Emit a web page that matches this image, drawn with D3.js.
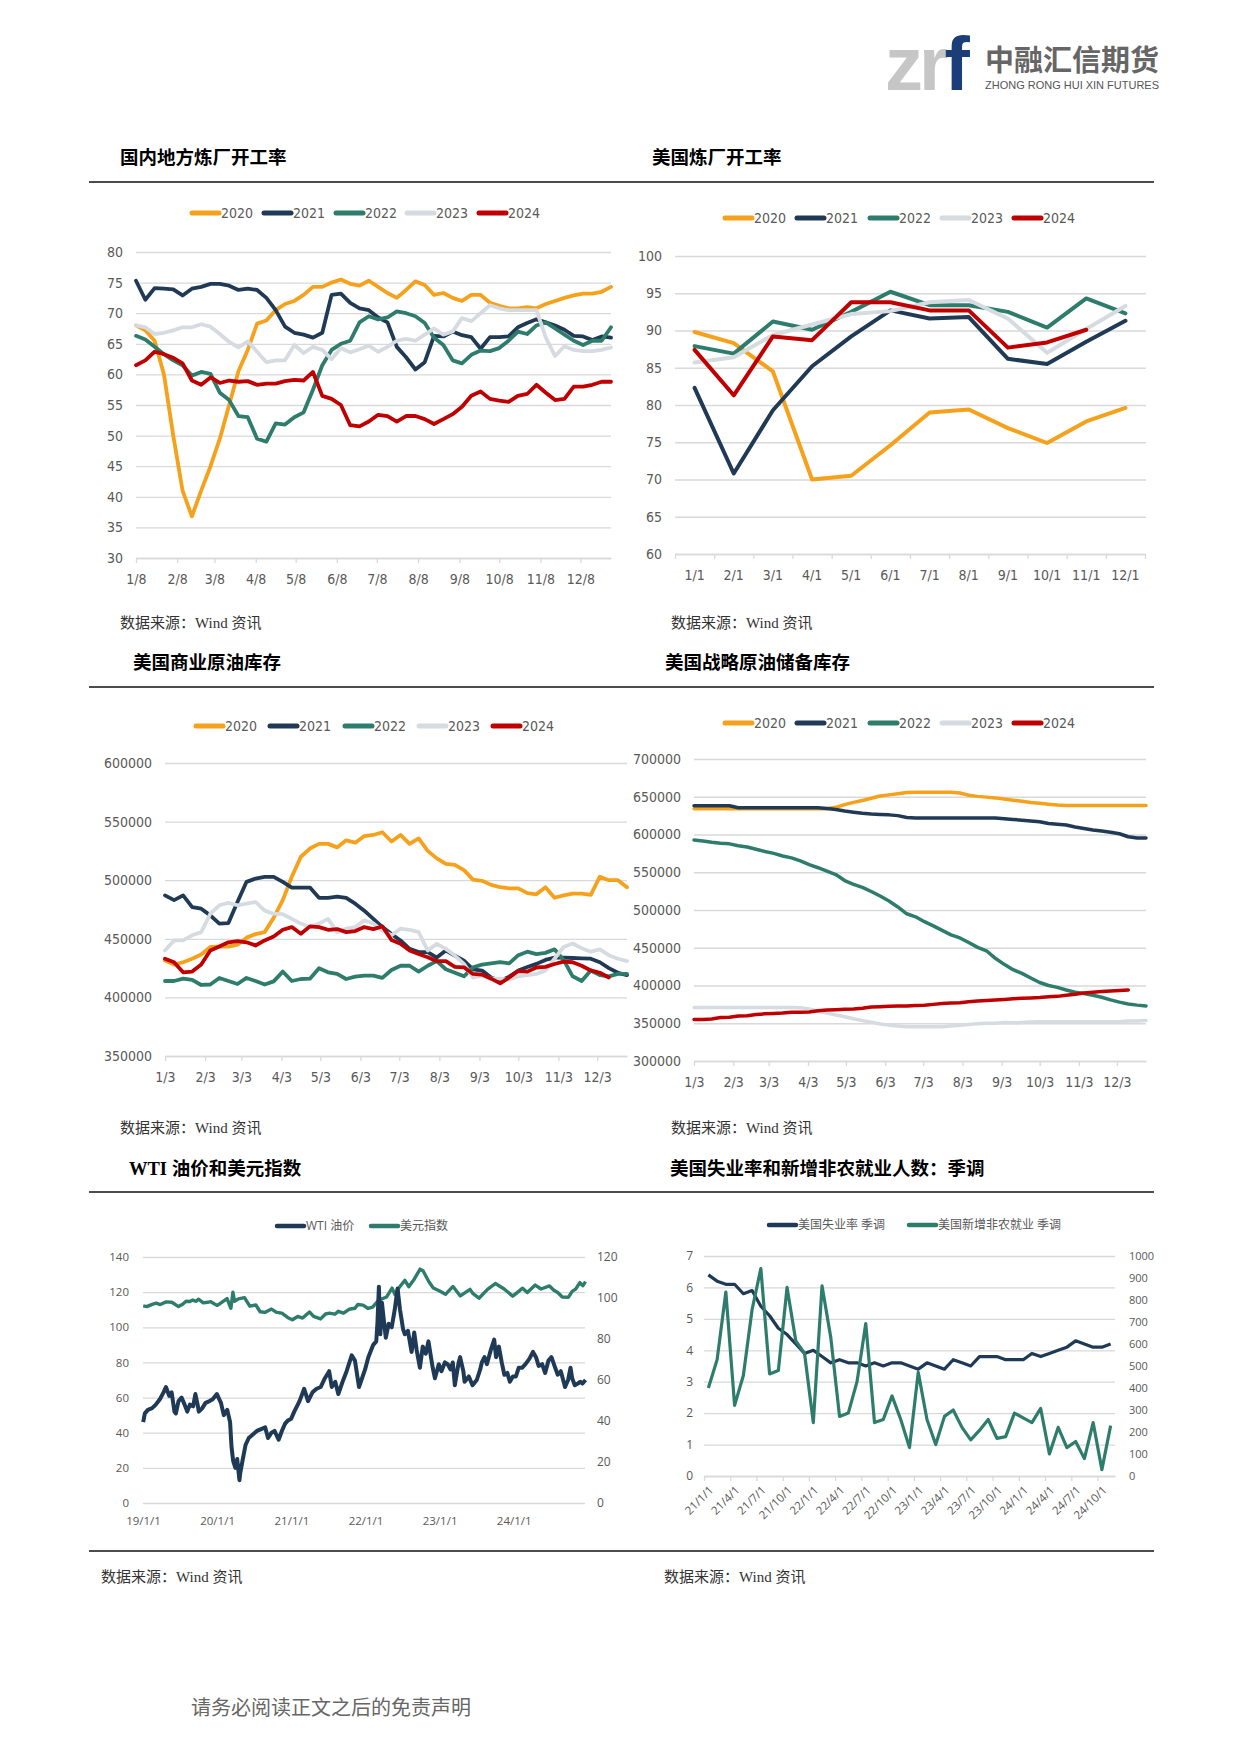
<!DOCTYPE html>
<html><head><meta charset="utf-8">
<script src="https://cdn.jsdelivr.net/npm/d3@7"></script>
<style>body{margin:0;background:#fff}svg{display:block}</style>
</head><body>
<svg id="page" width="1241" height="1755"></svg>
<script>
// ---------------- DATA ----------------
const yearNames = ["2020","2021","2022","2023","2024"];
const yearColors = ["#f6a11b","#203a56","#2e7d6c","#d5dbe1","#c00000"];

// Chart 1: 国内地方炼厂开工率 (weekly, from 1/8)
const localTickLabels = ["1/8","2/8","3/8","4/8","5/8","6/8","7/8","8/8","9/8","10/8","11/8","12/8"];
const local2020 = [68,67.2,65.5,60,50,41,36.8,41,45,49.5,55,60.5,64,68.3,68.8,70.5,71.5,72,73,74.3,74.3,75,75.5,74.8,74.5,75.3,74.3,73.3,72.5,73.8,75.2,74.6,73,73.3,72.5,72,73,73,71.7,71.2,70.8,70.8,71,70.8,71.5,72,72.5,72.9,73.2,73.2,73.5,74.3];
const local2021 = [75.3,72.2,74.1,74,73.9,72.9,74,74.3,74.8,74.8,74.5,73.8,74,73.8,72.5,70.5,67.8,66.8,66.5,66,66.8,73,73.2,71.7,70.8,70.5,69.3,68.5,64.5,62.8,60.8,62,66.3,66.2,67,66.4,66.1,64.2,66.1,66.1,66.2,67.7,68.4,69,68.5,68,67.3,66.3,66.2,65.6,66.2,66];
const local2022 = [66.3,65.7,64.5,63.3,62.3,61.5,59.8,60.4,60.1,57,55.8,53.2,53,49.5,49,52,51.8,53,53.8,57.5,61.5,64,65,65.5,68.5,69.5,69,69.3,70.3,70,69.5,68.4,66,64.8,62.3,61.8,63.2,63.9,63.8,64.3,65.5,67,66.6,68,68.5,67.5,66.5,65.5,64.8,65.5,65.5,67.7];
const local2023 = [68,67.7,66.6,66.8,67.2,67.7,67.7,68.2,67.8,66.6,65.3,64.4,65.4,63.7,62,62.3,62.3,64.8,63.5,64.5,64,62.5,64.3,63.6,64.1,64.7,63.7,64.5,65.5,65.8,65.5,66.5,67.5,66.5,67,69.2,68.7,70,71.3,70.8,70.5,70.5,70.5,70.5,66,63,64.6,64,63.8,63.8,64,64.4];
const local2024 = [61.5,62.3,63.7,63.3,62.7,61.8,59,58.3,59.5,58.6,59,58.8,58.9,58.3,58.5,58.5,58.9,59.1,59,60.4,56.5,56,55,51.7,51.5,52.3,53.4,53.2,52.3,53.2,53.2,52.7,51.9,52.7,53.5,54.7,56.5,57.2,56,55.7,55.5,56.5,56.8,58.3,57,55.8,56,58,58,58.3,58.8,58.8];

// Chart 2: 美国炼厂开工率 (monthly)
const usMonths = ["1/1","2/1","3/1","4/1","5/1","6/1","7/1","8/1","9/1","10/1","11/1","12/1"];
const us2020 = [89.8,88.3,84.5,70,70.5,74.6,79,79.4,76.9,74.9,77.8,79.6];
const us2021 = [82.3,70.8,79.3,85.2,89.2,92.7,91.6,91.8,86.2,85.5,88.5,91.3];
const us2022 = [87.9,86.9,91.2,90.1,92.5,95.2,93.4,93.4,92.5,90.4,94.3,92.3];
const us2023 = [85.7,86.4,89.4,90.8,92.2,92.6,93.8,94.1,91.6,87,90.2,93.3];
const us2024 = [87.4,81.3,89.2,88.7,93.8,93.8,92.7,92.7,87.7,88.4,90.1];

// Chart 3: 美国商业原油库存 (weekly, thousand barrels, from 1/3)
const stockTickLabels = ["1/3","2/3","3/3","4/3","5/3","6/3","7/3","8/3","9/3","10/3","11/3","12/3"];
const com2020 = [431.4,428,430,433,436.6,443,443.4,443.4,445,451,454,455.7,468,483,503,520,527,531,531,528,534,532,537.7,538.6,540.9,533,538.6,531,535.7,525,518.6,514,513,508.6,500.5,499.5,496,494,493,493,489,488,494,485,487,488.5,488.5,487.5,503,500,500,494];
const com2021 = [487,483,487,477,475.7,470,463,463.4,481.4,498.6,501.4,502.9,502.9,498.6,493.7,493.7,493.7,485,485,486,485,480,474,467,460,454,448.6,441.4,438.6,438.6,434,440,435.7,431.4,424,422.9,417,414,417.7,423,426,428.6,432,434,434,433.6,433.3,433,430,425,421,419];
const com2022 = [414,414,416,415,410.6,411,416.6,414,411.4,416.6,414,411,413.7,422,414,415.7,416,424.9,421.4,420,415.7,417.7,418.6,418.6,416.6,423.4,427,427,422,427,431,424,421,418,425.7,428,429,430,429,436,439,437,438,441,432,418,414,423,419,418,420,420];
const com2023 = [440,448.6,448.6,453,455.7,471.4,478.6,480.6,478.6,480,481.4,474,471.4,471,467,463,460,463,467,455.7,458.6,460,465.7,463,457,453,458.6,457.7,455.7,440,445.7,441.4,435.7,428.6,417,418.6,416,416,415,418,419,420,423,433,443,446,442,439,441,436,433,431];
const com2024 = [433,430,421.4,422,428,440,443.4,447,448,447,444.3,448.6,452,457.7,460,454.3,460.6,460,457.7,458.3,455.7,456.6,460,458.3,460.6,449,445.7,440,437,434.3,430.9,430.9,426,425.7,420,419.5,416,412,417,422.5,422,425.5,426,428.5,430.5,430,427,423,421,417];

// Chart 4: 美国战略原油储备库存 (weekly, thousand barrels, from 1/3)
const spr2020 = [634,634,634,634,634,634,634,634,634,634,634,634,634,634,634,634,636,639.5,642.5,645,648,651,652.5,654,655.5,656,656,656,656,656,655,652,650.5,649.5,648.5,647,645.5,644,642.5,641.5,640,639,638.5,638.5,638.5,638.5,638.5,638.5,638.5,638.5,638.5,638.5];
const spr2021 = [638,638,638,638,638,635.5,635.5,635.5,635.5,635.5,635.5,635.5,635.5,635.5,635.5,634.5,633,631,629.5,628,627,626.5,626,625,622.5,622,622,622,622,622,622,622,622,622,622,621,620,619,618,617,614.5,613.5,612.5,610,608,606,604.5,603,601,597,595.5,595.5];
const spr2022 = [592.7,591.4,589.7,588.5,587.6,585,583.5,580.4,577.5,575,571.5,569,565,560,556,551.5,547,539,534,530,524.5,518.5,512,504,495,491,484.5,479,473,467,463,457,450.5,446,436,428,421,416,410,404,400,397.5,394,391,389.5,387,384.5,381,378,375.5,374,373];
const spr2023 = [371,371,371,371,371,371,371,371,371,371,371,371,370.5,369,366,363.5,361,358.5,356,353.5,351.5,349,347.5,346.5,345.5,345.5,345.5,345.5,345.5,346.5,347.5,348.5,349.5,350,350,351,350.5,351,351.5,352,352,352,352,352,352,352,352,352,352,353,353,353.5];
const spr2024 = [355,355,355.5,357.5,358,359.5,360,361.5,362.5,363,363.5,364.5,364.5,365,366.5,367.5,368,368.5,369,370,371.5,372,372.5,372.8,373,373.5,373.7,375,376.3,376.8,377.3,378.5,379.5,380,380.7,381.5,382.5,383,383.5,384,385,385.6,387,388.5,390,391,392,392.7,393.5,394];

// Chart 5: WTI 油价 (left) 和 美元指数 (right)
const wtiYearLabels = ["19/1/1","20/1/1","21/1/1","22/1/1","23/1/1","24/1/1"];
const wtiPrice = [
["2019-01-02",46],["2019-01-10",51],["2019-01-25",53],["2019-02-15",54],["2019-03-05",56],["2019-03-25",59],["2019-04-12",63],["2019-04-24",66],["2019-05-10",61],["2019-05-22",63],["2019-06-05",52],["2019-06-12",51],["2019-06-25",58],["2019-07-10",60],["2019-07-25",56],["2019-08-07",52],["2019-08-20",56],["2019-09-05",55],["2019-09-16",62],["2019-09-27",56],["2019-10-03",52],["2019-10-20",54],["2019-11-05",57],["2019-11-25",58],["2019-12-10",59],["2019-12-31",62],
["2020-01-08",60],["2020-01-20",57],["2020-02-03",50],["2020-02-20",53],["2020-03-05",46],["2020-03-12",32],["2020-03-20",24],["2020-03-31",20],["2020-04-09",25],["2020-04-20",13],["2020-04-24",17],["2020-05-05",24],["2020-05-20",33],["2020-06-05",37],["2020-06-25",39],["2020-07-15",41],["2020-08-05",42],["2020-08-25",43],["2020-09-08",37],["2020-09-25",40],["2020-10-10",41],["2020-10-30",36],["2020-11-15",41],["2020-11-30",45],["2020-12-15",47],["2020-12-31",48],
["2021-01-15",52],["2021-02-10",58],["2021-03-05",65],["2021-03-24",58],["2021-04-15",63],["2021-05-05",65],["2021-05-25",66],["2021-06-15",71],["2021-07-06",75],["2021-07-19",66],["2021-08-05",69],["2021-08-20",62],["2021-09-10",69],["2021-09-30",75],["2021-10-25",84],["2021-11-10",81],["2021-11-30",66],["2021-12-15",71],["2021-12-30",76],
["2022-01-15",83],["2022-02-08",90],["2022-02-23",92],["2022-03-01",103],["2022-03-08",123],["2022-03-15",96],["2022-03-23",114],["2022-04-05",100],["2022-04-11",94],["2022-04-25",102],["2022-05-10",100],["2022-05-25",110],["2022-06-08",122],["2022-06-20",110],["2022-07-05",99],["2022-07-14",96],["2022-07-29",98],["2022-08-16",86],["2022-08-29",97],["2022-09-10",87],["2022-09-26",77],["2022-10-10",89],["2022-10-25",85],["2022-11-07",92],["2022-11-28",77],["2022-12-09",71],["2022-12-28",79],
["2023-01-10",75],["2023-01-27",80],["2023-02-10",79],["2023-02-24",76],["2023-03-07",80],["2023-03-17",67],["2023-04-05",80],["2023-04-12",83],["2023-04-28",75],["2023-05-04",69],["2023-05-25",72],["2023-06-12",67],["2023-07-03",70],["2023-07-20",76],["2023-07-28",80],["2023-08-10",83],["2023-08-22",79],["2023-09-10",87],["2023-09-27",93],["2023-10-06",83],["2023-10-20",89],["2023-11-03",80],["2023-11-16",73],["2023-12-01",74],["2023-12-13",69],["2023-12-28",72],
["2024-01-12",72],["2024-01-26",77],["2024-02-12",77],["2024-02-28",79],["2024-03-18",82],["2024-04-05",86],["2024-04-20",83],["2024-05-03",78],["2024-05-20",79],["2024-06-04",74],["2024-06-20",81],["2024-07-05",83],["2024-07-20",78],["2024-08-05",73],["2024-08-20",75],["2024-09-10",66],["2024-09-25",70],["2024-10-07",77],["2024-10-15",71],["2024-10-28",67],["2024-11-12",68],["2024-11-25",69],["2024-12-05",68],["2024-12-20",70]];
const dollarIndex = [
["2019-01-02",96.2],["2019-01-20",95.8],["2019-02-15",96.9],["2019-03-07",97.5],["2019-03-27",96.8],["2019-04-25",98.1],["2019-05-23",97.9],["2019-06-25",95.8],["2019-07-15",96.9],["2019-08-01",98.4],["2019-08-20",98.3],["2019-09-03",99.0],["2019-09-20",98.4],["2019-10-01",99.4],["2019-10-25",97.6],["2019-11-15",97.9],["2019-12-01",98.2],["2019-12-31",96.4],
["2020-01-15",97.2],["2020-02-19",99.7],["2020-03-09",95.0],["2020-03-19",102.8],["2020-03-27",98.4],["2020-04-15",99.6],["2020-05-15",100.2],["2020-06-10",96.0],["2020-07-10",96.6],["2020-07-31",93.3],["2020-08-25",93.0],["2020-09-25",94.6],["2020-10-20",93.0],["2020-11-15",92.6],["2020-12-15",90.4],
["2021-01-06",89.4],["2021-02-01",91.0],["2021-02-25",90.2],["2021-03-31",93.2],["2021-04-20",91.0],["2021-05-25",89.8],["2021-06-18",92.2],["2021-07-07",92.6],["2021-08-03",92.1],["2021-08-20",93.5],["2021-09-15",92.6],["2021-10-12",94.5],["2021-11-10",95.0],["2021-11-24",96.8],["2021-12-20",96.5],
["2022-01-14",94.9],["2022-02-05",95.5],["2022-03-07",99.0],["2022-04-15",100.5],["2022-05-12",104.8],["2022-05-27",101.6],["2022-06-15",105.0],["2022-07-14",108.6],["2022-08-02",105.5],["2022-08-29",109.2],["2022-09-27",114.1],["2022-10-12",113.2],["2022-11-10",107.8],["2022-12-01",104.9],["2022-12-30",103.5],
["2023-01-30",101.8],["2023-02-28",104.8],["2023-03-08",105.6],["2023-04-13",101.0],["2023-05-31",104.2],["2023-06-15",102.1],["2023-07-14",99.9],["2023-08-25",104.2],["2023-09-27",106.6],["2023-10-03",107.1],["2023-11-15",104.4],["2023-12-27",100.9],
["2024-01-15",102.4],["2024-02-14",104.8],["2024-03-08",102.7],["2024-04-16",106.3],["2024-05-15",104.4],["2024-06-25",105.9],["2024-07-17",103.8],["2024-08-05",102.7],["2024-08-27",100.5],["2024-09-27",100.4],["2024-10-15",103.2],["2024-11-01",104.3],["2024-11-22",107.5],["2024-12-06",106.0],["2024-12-20",108.0]];

// Chart 6: 美国失业率 季调 (%) 和 新增非农就业 季调 (千人), monthly 2021-01 .. 2024-11
const unemploymentRate = [6.4,6.2,6.1,6.1,5.8,5.9,5.4,5.1,4.7,4.5,4.2,3.9,4.0,3.8,3.6,3.7,3.6,3.6,3.5,3.6,3.5,3.6,3.6,3.5,3.4,3.6,3.5,3.4,3.7,3.6,3.5,3.8,3.8,3.8,3.7,3.7,3.7,3.9,3.8,3.9,4.0,4.1,4.3,4.2,4.1,4.1,4.2];
const nonfarmPayrolls = [400,529,836,321,457,757,943,464,479,857,614,557,243,864,629,271,286,429,693,243,257,364,257,129,471,257,143,271,300,221,164,207,257,171,179,286,264,243,307,100,221,129,157,79,243,29,229];

// ---------------- DRAWING ----------------
const svg = d3.select("#page");
const F_NUM = '"Liberation Sans Narrow","DejaVu Sans Condensed","Open Sans",sans-serif';
const F_SANS = '"Open Sans","Noto Sans","Noto Sans CJK SC",sans-serif';
const F_TITLE = '"Liberation Serif","Noto Sans CJK SC",serif';
const F_SRC = '"Liberation Serif","Noto Sans CJK SC",serif';
const GRID = "#d9d9d9", LAB = "#595959";

// logo (one text element with coloured parts)
const logo = svg.append("g");
const mark = logo.append("text").attr("x",885).attr("y",90)
  .style("font-family","Liberation Sans").style("font-weight","bold").style("font-size","76px").style("letter-spacing","-4px");
mark.append("tspan").attr("fill","#c6c6c6").text("zr");
mark.append("tspan").attr("fill","#1b3d78").text("f");
logo.append("text").attr("x",985).attr("y",71).attr("textLength",174).attr("lengthAdjust","spacingAndGlyphs")
  .style("font-family",'"Noto Sans CJK SC"').style("font-weight","bold").style("font-size","29px").attr("fill","#666").text("中融汇信期货");
logo.append("text").attr("x",985).attr("y",89).attr("textLength",174).attr("lengthAdjust","spacingAndGlyphs")
  .style("font-family",'"Liberation Sans"').style("font-size","11px").attr("fill","#555").text("ZHONG RONG HUI XIN FUTURES");

// rules
[182,687,1192,1551].forEach(y=>svg.append("line").attr("x1",89).attr("x2",1154).attr("y1",y).attr("y2",y).attr("stroke","#111").attr("stroke-width",1.5));

// titles and sources
const titles = [["国内地方炼厂开工率",120,157],["美国炼厂开工率",652,157],["美国商业原油库存",133,662],["美国战略原油储备库存",665,662],["WTI 油价和美元指数",129,1168],["美国失业率和新增非农就业人数：季调",670,1168]];
titles.forEach(t=>svg.append("text").attr("x",t[1]).attr("y",t[2]).attr("dy","0.36em").style("font-family",F_TITLE).style("font-weight","bold").style("font-size","18.5px").attr("fill","#000").text(t[0]));
const sources = [[120,623],[671,623],[120,1128],[671,1128],[101,1577],[664,1577]];
sources.forEach(s=>svg.append("text").attr("x",s[0]).attr("y",s[1]).attr("dy","0.36em").style("font-family",F_SRC).style("font-size","15px").attr("fill","#333").text("数据来源：Wind 资讯"));
svg.append("text").attr("x",191).attr("y",1708).attr("dy","0.36em").style("font-family",F_SRC).style("font-size","20px").attr("fill","#666").text("请务必阅读正文之后的免责声明");

function styleY(sel, font, size){
  sel.select(".domain").remove();
  sel.selectAll(".tick line").attr("stroke",GRID).attr("stroke-width",1.3);
  sel.selectAll("text").attr("fill",LAB).style("font-family",font).style("font-size",size+"px");
}
function legend(items, xs, y, font, size, sw){
  items.forEach((it,i)=>{
    svg.append("line").attr("x1",xs[i]+2).attr("x2",xs[i]+29).attr("y1",y).attr("y2",y).attr("stroke",it.color).attr("stroke-width",sw).attr("stroke-linecap","round");
    svg.append("text").attr("x",xs[i]+31).attr("y",y).attr("dy","0.35em").attr("fill",LAB).style("font-family",font).style("font-size",size+"px").text(it.name);
  });
}
const parseMD = s => { const [m,d] = s.split("/").map(Number); return new Date(2001,m-1,d); };
const yearItems = yearNames.map((n,i)=>({name:n,color:yearColors[i]}));

function timeYearChart(o){
  const dates = d3.range(52).map(i=>d3.timeDay.offset(o.start,7*i));
  const x = d3.scaleTime().domain([o.start, dates[51]]).range([o.x0,o.x1]);
  const y = d3.scaleLinear().domain(o.yDom).range([o.yBase,o.yTop]);
  const ya = svg.append("g").attr("transform",`translate(${o.x0},0)`)
    .call(d3.axisLeft(y).tickValues(d3.range(o.yDom[0],o.yDom[1]+1e-9,o.yStep)).tickSize(-(o.x1-o.x0)).tickPadding(13).tickFormat(d3.format("d")));
  styleY(ya,F_NUM,14);
  const xa = svg.append("g").attr("transform",`translate(0,${o.yBase})`)
    .call(d3.axisBottom(x).tickValues(o.ticks.map(parseMD)).tickFormat((d,i)=>o.ticks[i]).tickSize(5).tickSizeOuter(0).tickPadding(11));
  xa.select(".domain").attr("stroke",GRID).attr("stroke-width",1.3);
  xa.selectAll(".tick line").attr("stroke",GRID).attr("stroke-width",1.3);
  xa.selectAll("text").attr("fill",LAB).style("font-family",F_NUM).style("font-size","14px");
  const line = d3.line().x((d,i)=>x(dates[i])).y(d=>y(d*o.mult)).curve(d3.curveLinear);
  o.series.forEach((s,k)=>svg.append("path").attr("d",line(s)).attr("fill","none").attr("stroke",yearColors[k]).attr("stroke-width",o.lw).attr("stroke-linejoin","round").attr("stroke-linecap","round"));
  legend(yearItems, o.legendX, o.legendY, F_NUM, 14, 5);
}

// Chart 1
timeYearChart({start:new Date(2001,0,8), x0:136, x1:611, yDom:[30,80], yStep:5, yBase:558, yTop:252,
  ticks:localTickLabels, series:[local2020,local2021,local2022,local2023,local2024], mult:1, lw:3.8,
  legendX:[190,262,334,405,477], legendY:213});

// Chart 2 (monthly category axis)
(function(){
  const x = d3.scaleBand().domain(usMonths).range([675,1145]);
  const y = d3.scaleLinear().domain([60,100]).range([554,256]);
  const ya = svg.append("g").attr("transform","translate(675,0)")
    .call(d3.axisLeft(y).tickValues(d3.range(60,101,5)).tickSize(-(1146-675)).tickPadding(13));
  styleY(ya,F_NUM,14);
  const tk = svg.append("g").attr("transform","translate(0,554)")
    .call(d3.axisBottom(d3.scaleLinear().domain([0,12]).range([675,1145])).ticks(12).tickFormat("").tickSize(5).tickSizeOuter(0));
  tk.select(".domain").attr("stroke",GRID).attr("stroke-width",1.3);
  tk.selectAll(".tick line").attr("stroke",GRID).attr("stroke-width",1.3);
  const xa = svg.append("g").attr("transform","translate(0,554)").call(d3.axisBottom(x).tickSize(0).tickPadding(16));
  xa.select(".domain").remove();
  xa.selectAll("text").attr("fill",LAB).style("font-family",F_NUM).style("font-size","14px");
  const line = d3.line().x((d,i)=>x(usMonths[i])+x.bandwidth()/2).y(d=>y(d));
  [us2020,us2021,us2022,us2023,us2024].forEach((s,k)=>svg.append("path").attr("d",line(s)).attr("fill","none").attr("stroke",yearColors[k]).attr("stroke-width",4).attr("stroke-linejoin","round").attr("stroke-linecap","round"));
  legend(yearItems,[723,795,868,940,1012],218,F_NUM,14,5);
})();

// Chart 3
timeYearChart({start:new Date(2001,0,3), x0:165, x1:627, yDom:[350000,600000], yStep:50000, yBase:1056, yTop:763,
  ticks:stockTickLabels, series:[com2020,com2021,com2022,com2023,com2024], mult:1000, lw:3.8,
  legendX:[194,268,343,417,491], legendY:726});

// Chart 4
timeYearChart({start:new Date(2001,0,3), x0:694, x1:1146, yDom:[300000,700000], yStep:50000, yBase:1061, yTop:759,
  ticks:stockTickLabels, series:[spr2020,spr2021,spr2022,spr2023,spr2024], mult:1000, lw:3.5,
  legendX:[723,795,868,940,1012], legendY:723});

// Chart 5
(function(){
  const p = d3.timeParse("%Y-%m-%d");
  const x = d3.scaleTime().domain([new Date(2019,0,1), new Date(2025,0,1)]).range([143,588]);
  const yl = d3.scaleLinear().domain([0,140]).range([1503,1257]);
  const yr = d3.scaleLinear().domain([0,120]).range([1503,1257]);
  const ya = svg.append("g").attr("transform","translate(143,0)")
    .call(d3.axisLeft(yl).tickValues(d3.range(0,141,20)).tickSize(-(585-143)).tickPadding(14));
  styleY(ya,F_SANS,11.5);
  const yb = svg.append("g").attr("transform","translate(585,0)")
    .call(d3.axisRight(yr).tickValues(d3.range(0,121,20)).tickSize(0).tickPadding(12));
  yb.select(".domain").remove();
  yb.selectAll("text").attr("fill",LAB).style("font-family",F_SANS).style("font-size","12px");
  const parseY = s => { const [a,b,c] = s.split("/").map(Number); return new Date(2000+a,b-1,c); };
  const xa = svg.append("g").attr("transform","translate(0,1503)")
    .call(d3.axisBottom(x).tickValues(wtiYearLabels.map(parseY)).tickFormat((d,i)=>wtiYearLabels[i]).tickSize(0).tickPadding(14));
  xa.select(".domain").remove();
  xa.selectAll("text").attr("fill",LAB).style("font-family",F_SANS).style("font-size","11.5px");
  const lr = d3.line().x(d=>x(p(d[0]))).y(d=>yr(d[1]));
  const ll = d3.line().x(d=>x(p(d[0]))).y(d=>yl(d[1]));
  svg.append("path").attr("d",lr(dollarIndex)).attr("fill","none").attr("stroke","#2e7d6c").attr("stroke-width",3.4).attr("stroke-linejoin","round");
  svg.append("path").attr("d",ll(wtiPrice)).attr("fill","none").attr("stroke","#1f3a56").attr("stroke-width",4).attr("stroke-linejoin","round");
  legend([{name:"WTI 油价",color:"#1f3a56"},{name:"美元指数",color:"#2e7d6c"}],[275,369],1226,F_SANS,12,4.5);
})();

// Chart 6
(function(){
  const idx = d3.range(unemploymentRate.length);
  const monthLabels = idx.map(i=>`${21+Math.floor(i/12)}/${i%12+1}/1`);
  const x = d3.scaleBand().domain(idx).range([704,1115]);
  const yl = d3.scaleLinear().domain([0,7]).range([1476,1256]);
  const yr = d3.scaleLinear().domain([0,1000]).range([1476,1256]);
  const ya = svg.append("g").attr("transform","translate(704,0)")
    .call(d3.axisLeft(yl).tickValues(d3.range(0,8)).tickFormat(d3.format("d")).tickSize(-(1115-704)).tickPadding(11));
  styleY(ya,F_SANS,12);
  const yb = svg.append("g").attr("transform","translate(1115,0)")
    .call(d3.axisRight(yr).tickValues(d3.range(0,1001,100)).tickFormat(d3.format("d")).tickSize(0).tickPadding(14));
  yb.select(".domain").remove();
  yb.selectAll("text").attr("fill",LAB).style("font-family",F_SANS).style("font-size","11px");
  const tk = svg.append("g").attr("transform","translate(0,1476)")
    .call(d3.axisBottom(d3.scaleLinear().domain([0,idx.length]).range([704,1115])).tickValues(d3.range(0,idx.length,3)).tickFormat("").tickSize(5).tickSizeOuter(0));
  tk.select(".domain").attr("stroke",GRID).attr("stroke-width",1.3);
  tk.selectAll(".tick line").attr("stroke",GRID).attr("stroke-width",1.3);
  const xa = svg.append("g").attr("transform","translate(0,1476)")
    .call(d3.axisBottom(x).tickValues(d3.range(0,idx.length,3)).tickFormat(i=>monthLabels[i]).tickSize(0));
  xa.select(".domain").remove();
  xa.selectAll("text").attr("x",0).attr("y",0).attr("dy","0.35em").attr("text-anchor","end")
    .attr("transform","translate(3,12) rotate(-45)").attr("fill",LAB).style("font-family",F_SANS).style("font-size","11.5px");
  const l1 = d3.line().x((d,i)=>x(i)+x.bandwidth()/2).y(d=>yl(d));
  const l2 = d3.line().x((d,i)=>x(i)+x.bandwidth()/2).y(d=>yr(d));
  svg.append("path").attr("d",l1(unemploymentRate)).attr("fill","none").attr("stroke","#1f3a56").attr("stroke-width",3.2).attr("stroke-linejoin","round");
  svg.append("path").attr("d",l2(nonfarmPayrolls)).attr("fill","none").attr("stroke","#2e7d6c").attr("stroke-width",3.2).attr("stroke-linejoin","round");
  legend([{name:"美国失业率 季调",color:"#1f3a56"},{name:"美国新增非农就业 季调",color:"#2e7d6c"}],[767,907],1225,F_SANS,12,4.5);
})();
</script>
</body></html>
